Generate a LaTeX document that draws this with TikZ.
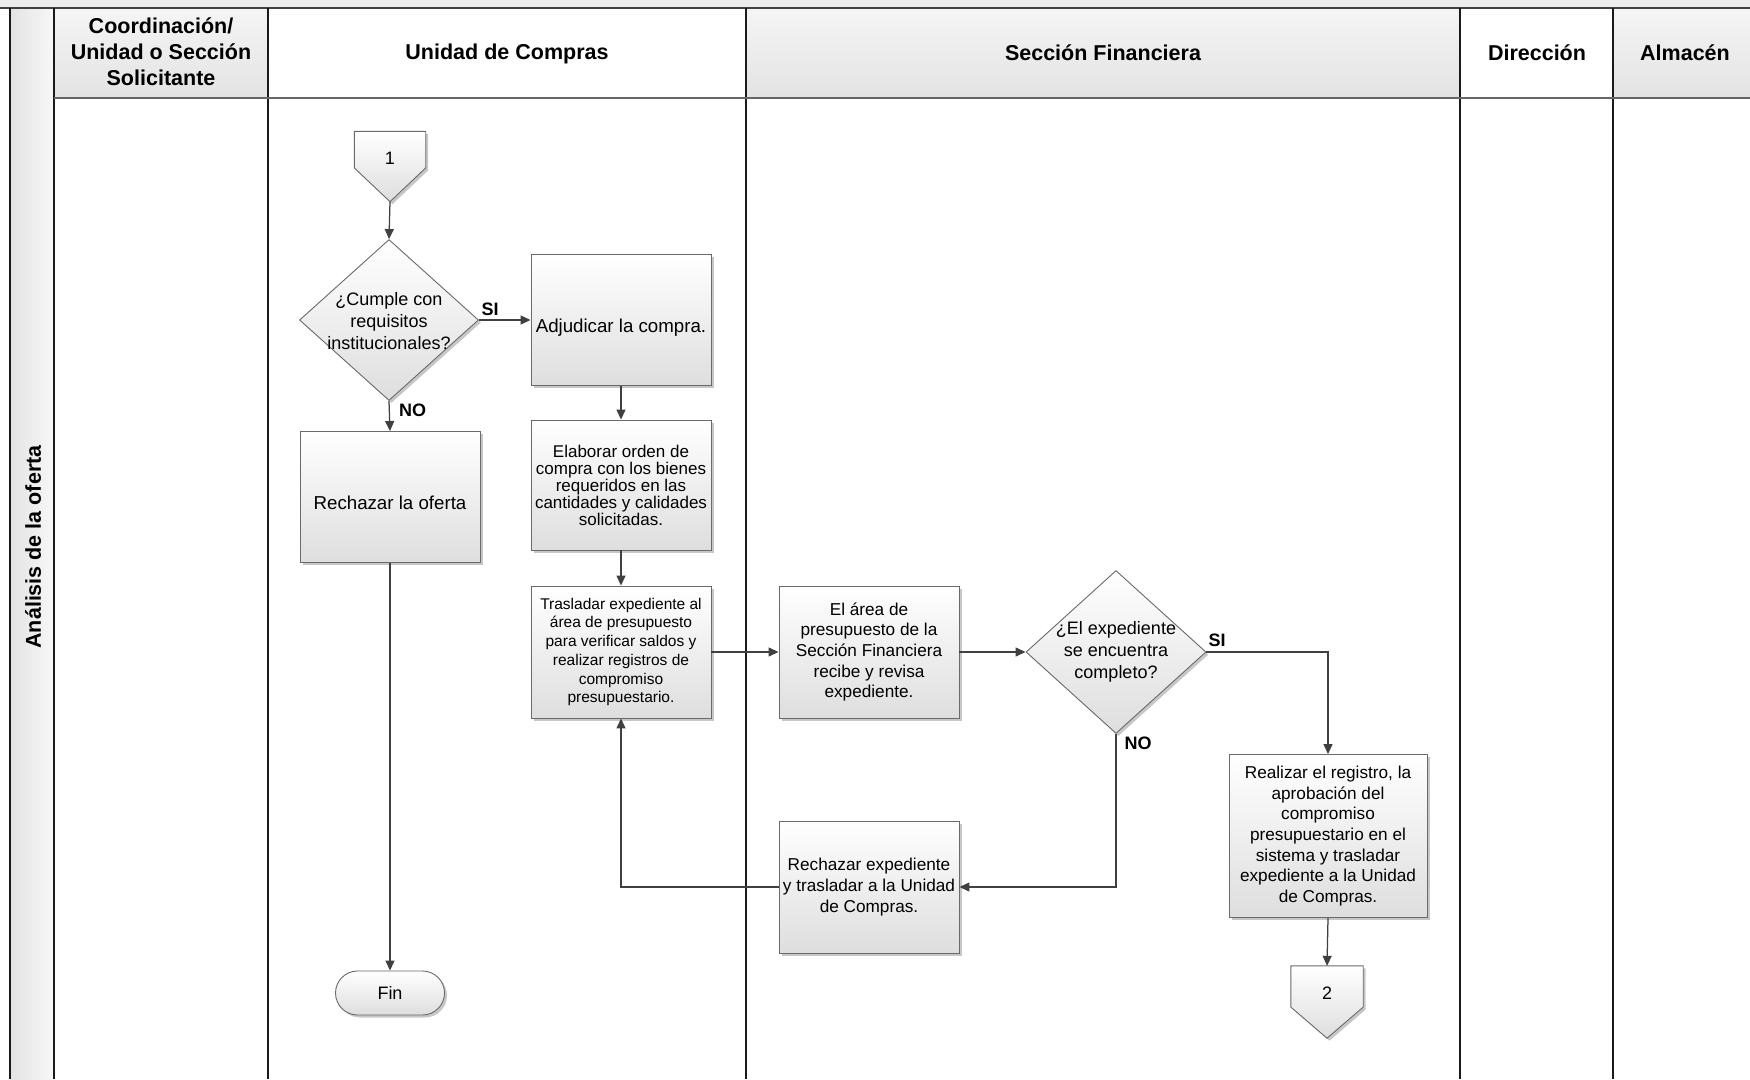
\documentclass[tikz,border=0pt]{standalone}
\usepackage{fontspec}
\setmainfont{Liberation Sans}
\usetikzlibrary{arrows.meta,shapes.geometric,calc,shadows}
\definecolor{lineC}{HTML}{404040}
\definecolor{borderC}{HTML}{6A6A6A}
\definecolor{laneC}{HTML}{1A1A1A}
\newcommand\myoffpage[2]{%
  \path[offfill] (#1.north west) -- (#1.north east) -- ($(#1.north east)!#2!(#1.south east)$) -- (#1.south) -- ($(#1.north west)!#2!(#1.south west)$) -- cycle;}
\begin{document}
\begin{tikzpicture}[x=1pt,y=-1pt,
  shad/.style={drop shadow={shadow xshift=2.5pt, shadow yshift=-2.5pt, opacity=0.22, fill=black}},
  box/.style={draw=borderC, line width=0.9pt, top color=white, bottom color=black!13, shad,
    minimum width=180pt, minimum height=131pt, inner sep=1pt, align=center,
    font=\fontsize{17.2}{20.6}\selectfont},
  dia/.style={diamond, draw=borderC, line width=0.9pt, top color=white, bottom color=black!13, shad,
    minimum width=179pt, minimum height=161pt, inner sep=0pt},
  diatext/.style={align=center, inner sep=0pt, font=\fontsize{18}{21.8}\selectfont},
  offfill/.style={draw=borderC, line width=0.9pt, top color=white, bottom color=black!13, shad},
  conn/.style={minimum width=71pt, minimum height=70pt, inner sep=0pt},
  ctext/.style={inner sep=0pt, font=\fontsize{18}{21}\selectfont},
  arr/.style={draw=lineC, line width=1.25pt, -{Triangle[length=10pt,width=9pt]}},
  lbl/.style={inner sep=0pt, font=\fontsize{18}{21}\selectfont\bfseries},
  hdr/.style={align=center, inner sep=0pt, font=\fontsize{21.5}{26}\selectfont\bfseries},
  lane/.style={draw=laneC, line width=1.3pt}
]
\useasboundingbox (0,0) rectangle (1750,1079);
\clip (0,0) rectangle (1750,1079);
\fill[white] (0,0) rectangle (1750,1079);
% top strip
\fill[black!7] (0,0) rectangle (1750,8);
% lane label column
\shade[left color=black!11, right color=black!3] (10,8) rectangle (54,1079);
% header backgrounds
\shade[top color=black!4, bottom color=black!11] (54,8) rectangle (268,98);
\shade[top color=black!4, bottom color=black!11] (746,8) rectangle (1460,98);
\shade[top color=black!4, bottom color=black!11] (1613,8) rectangle (1750,98);
% lines
\draw[draw=black!75, line width=1.3pt] (0,8) -- (1750,8);
\draw[lane] (10,8) -- (10,1079);
\draw[lane] (54,8) -- (54,1079);
\draw[lane] (268,8) -- (268,1079);
\draw[lane] (746,8) -- (746,1079);
\draw[lane] (1460,8) -- (1460,1079);
\draw[lane] (1613,8) -- (1613,1079);
\draw[draw=black!60, line width=2pt] (54,98) -- (1750,98);
% header texts
\node[hdr] (h1) at (161,52) {Coordinación/\\Unidad o Sección\\Solicitante};
\node[hdr] (h2) at (507,54) {Unidad de Compras};
\node[hdr] (h3) at (1103,53) {Sección Financiera};
\node[hdr] (h4) at (1537,53) {Dirección};
\node[hdr] (h5) at (1685,53) {Almacén};
\node[hdr, rotate=90] (lanelbl) at (33,547) {Análisis de la oferta};

% connector 1
\node[conn] (c1) at (390,166.5) {};
\myoffpage{c1}{0.52}
\node[ctext] (c1t) at (390,158) {1};
% decision 1
\node[dia] (d1) at (389,320) {};
\node[diatext] (d1t) at (389,321) {¿Cumple con\\requisitos\\institucionales?};
% boxes
\node[box, font=\fontsize{18.7}{22}\selectfont] (adj) at (621,320) {\raisebox{-12pt}[0pt][0pt]{Adjudicar la compra.}};
\node[box, font=\fontsize{18.7}{22}\selectfont] (rech) at (390,497) {\raisebox{-12pt}[0pt][0pt]{Rechazar la oferta}};
\node[box, minimum height=130pt, font=\fontsize{17}{17}\selectfont] (elab) at (621,485)
  {Elaborar orden de\\compra con los bienes\\requeridos en las\\cantidades y calidades\\solicitadas.};
\node[box, minimum height=132pt, font=\fontsize{15.5}{18.75}\selectfont] (tras) at (621,652)
  {Trasladar expediente al\\área de presupuesto\\para verificar saldos y\\realizar registros de\\compromiso\\presupuestario.};
\node[box, minimum height=132pt] (area) at (869,652)
  {El área de\\presupuesto de la\\Sección Financiera\\recibe y revisa\\expediente.};
\node[dia, minimum width=180pt, minimum height=163pt] (d2) at (1116,652) {};
\node[diatext] (d2t) at (1116,652) {¿El expediente\\se encuentra\\completo?};
\node[box, minimum width=198pt, minimum height=163pt] (real) at (1328,836)
  {Realizar el registro, la\\aprobación del\\compromiso\\presupuestario en el\\sistema y trasladar\\expediente a la Unidad\\de Compras.};
\node[box, minimum height=132pt] (rexp) at (869,887)
  {Rechazar expediente\\y trasladar a la Unidad\\de Compras.};
% connector 2
\node[conn, minimum width=72pt, minimum height=72pt] (c2) at (1327,1002) {};
\myoffpage{c2}{0.57}
\node[ctext] (c2t) at (1327,993) {2};
% Fin
\node[draw=borderC, line width=0.9pt, top color=white, bottom color=black!13, shad,
  rounded corners=22pt, minimum width=109pt, minimum height=44pt, inner sep=0pt,
  font=\fontsize{18}{21}\selectfont] (fin) at (390,993) {Fin};

% connectors
\draw[arr] (c1.south) -- (d1.north);
\draw[arr] (d1.east) -- (adj.west);
\draw[arr] (d1.south) -- (rech.north);
\draw[arr] (adj.south) -- (elab.north);
\draw[arr] (elab.south) -- (tras.north);
\draw[arr] (rech.south) -- (fin.north);
\draw[arr] (tras.east) -- (area.west);
\draw[arr] (area.east) -- (d2.west);
\draw[arr] (d2.east) -| (real.north);
\draw[arr] (real.south) -- (c2.north);
\draw[arr] (d2.south) |- (rexp.east);
\draw[arr] (rexp.west) -| (tras.south);
% labels
\node[lbl] (si1) at (490,309) {SI};
\node[lbl, anchor=west] (no1) at (399,410) {NO};
\node[lbl] (si2) at (1217,640) {SI};
\node[lbl] (no2) at (1138,743) {NO};
\end{tikzpicture}
\end{document}
